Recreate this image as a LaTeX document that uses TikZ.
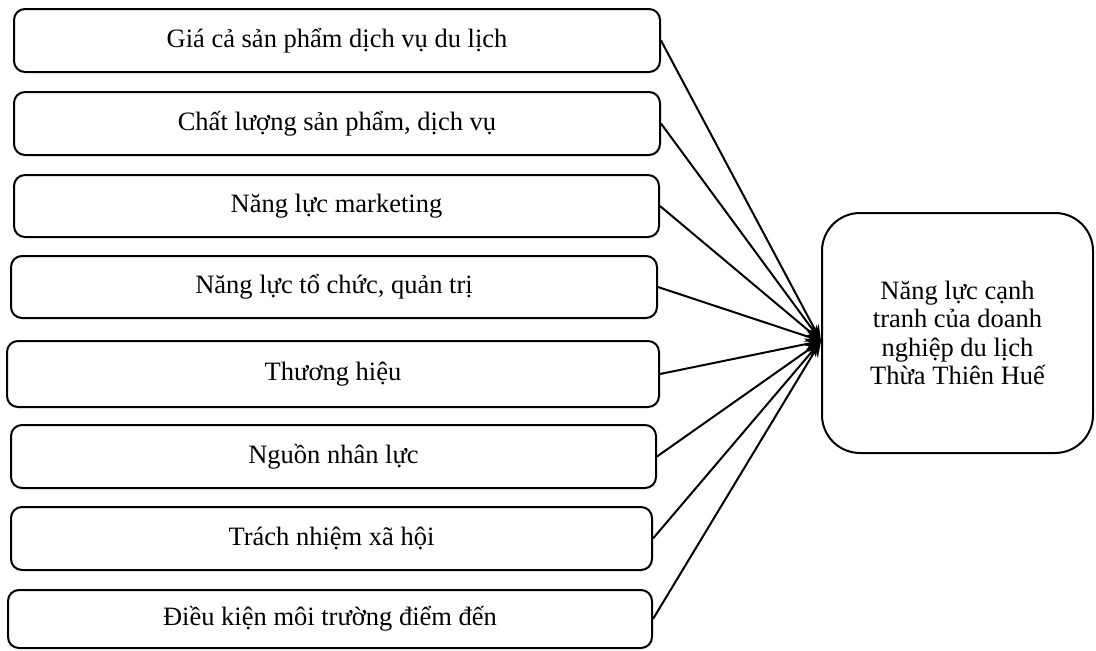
\documentclass[tikz,border=0pt]{standalone}
\usepackage{fontspec}
\setmainfont{Liberation Serif}
\usetikzlibrary{arrows.meta}
\begin{document}
\begin{tikzpicture}[x=1pt,y=-1pt,
  factor/.style={draw, line width=2pt, rounded corners=11pt, inner sep=0pt,
    font=\fontsize{26.5}{28.5}\selectfont, align=center},
  goal/.style={draw, line width=2pt, rounded corners=38pt, inner sep=0pt,
    font=\fontsize{26.5}{28.5}\selectfont, align=center,
    minimum width=271pt, minimum height=240pt},
  link/.style={line width=2pt, -{Stealth[length=16pt,width=12pt]}}]
\useasboundingbox (0,0) rectangle (1096,651);
\node[factor, minimum width=646pt, minimum height=63pt] (b1) at (337,40.5) {Giá cả sản phẩm dịch vụ du lịch};
\node[factor, minimum width=646pt, minimum height=63pt] (b2) at (337,123.5) {Chất lượng sản phẩm, dịch vụ};
\node[factor, minimum width=645pt, minimum height=62pt] (b3) at (336.5,206) {Năng lực marketing};
\node[factor, minimum width=646pt, minimum height=62pt] (b4) at (334,287) {Năng lực tổ chức, quản trị};
\node[factor, minimum width=652pt, minimum height=66pt] (b5) at (333,374) {Thương hiệu};
\node[factor, minimum width=645pt, minimum height=63pt] (b6) at (333.5,456.5) {Nguồn nhân lực};
\node[factor, minimum width=641pt, minimum height=63pt] (b7) at (331.5,538.5) {Trách nhiệm xã hội};
\node[factor, minimum width=644pt, minimum height=58pt] (b8) at (330,619) {Điều kiện môi trường điểm đến};
\node[goal] (t) at (957.5,333) {Năng lực cạnh\\tranh của doanh\\nghiệp du lịch\\Thừa Thiên Huế};
\coordinate (tip) at (821,341);
\foreach \b in {b1,b2,b3,b4,b5,b6,b7,b8}
  \draw[link] (\b.east) -- (tip);
\end{tikzpicture}
\end{document}
